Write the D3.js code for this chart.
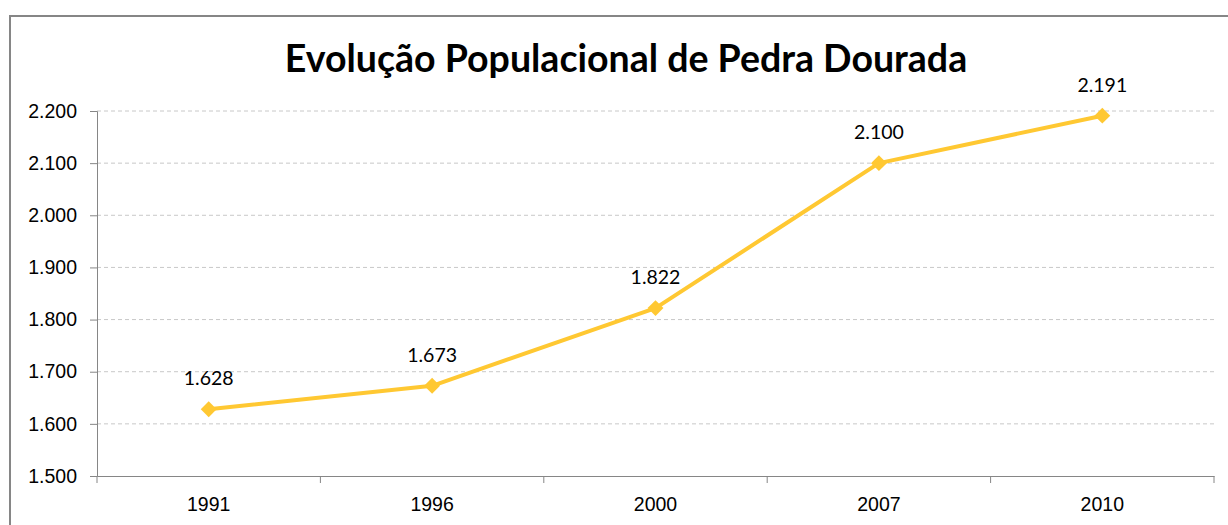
<!DOCTYPE html>
<html>
<head>
<meta charset="utf-8">
<script src="https://cdn.jsdelivr.net/npm/d3@7"></script>
<style>
  body { margin: 0; background: #fff; }
  svg { display: block; font-family: Lato, "Open Sans", sans-serif; }
</style>
</head>
<body>
<div id="chart"></div>
<script>
// Chart data
const years = ["1991", "1996", "2000", "2007", "2010"];
const population = [1628, 1673, 1822, 2100, 2191];
const yTicks = [1500, 1600, 1700, 1800, 1900, 2000, 2100, 2200];
const title = "Evolução Populacional de Pedra Dourada";

const W = 1228, H = 525;
const margin = { top: 111, right: 14, bottom: 49, left: 97 };
const width = W - margin.left - margin.right,
    height = H - margin.top - margin.bottom;

const ptBR = d3.formatLocale({ decimal: ",", thousands: ".", grouping: [3], currency: ["R$", ""] });
const fmt = ptBR.format(",d");

const svg = d3.select("#chart").append("svg")
    .attr("width", W)
    .attr("height", H);

// Chart frame
svg.append("rect")
    .attr("x", 10).attr("y", 16)
    .attr("width", W + 10).attr("height", H + 10)
    .attr("fill", "#fff")
    .attr("stroke", "#868686")
    .attr("stroke-width", 2);

// Title
svg.append("text")
    .attr("x", 626).attr("y", 72)
    .attr("text-anchor", "middle")
    .style("font-size", "37.5px")
    .style("font-weight", "bold")
    .attr("fill", "#000")
    .text(title);

const g = svg.append("g")
    .attr("transform", `translate(${margin.left},${margin.top})`);

// Scales
const x = d3.scaleBand()
    .domain(years)
    .range([0, width]);

const y = d3.scaleLinear()
    .domain([1500, 2200])
    .range([height, 0]);

// Gridlines
g.append("g")
    .selectAll("line")
    .data(yTicks.filter(d => d > 1500))
    .enter()
    .append("line")
    .attr("x1", 0).attr("x2", width)
    .attr("y1", d => y(d)).attr("y2", d => y(d))
    .attr("stroke", "#c8c8c8")
    .attr("stroke-dasharray", "4,3")
    .attr("stroke-width", 1);

// Y axis
const yAxis = g.append("g")
    .call(d3.axisLeft(y).tickValues(yTicks).tickFormat(fmt).tickSize(7).tickPadding(13));
yAxis.select(".domain").attr("stroke", "#868686");
yAxis.selectAll(".tick line").attr("stroke", "#868686");
yAxis.selectAll("text").style("font-size", "19.5px").attr("fill", "#000");

// X axis
const xAxis = g.append("g")
    .attr("transform", `translate(0,${height})`)
    .call(d3.axisBottom(x).tickSize(0).tickPadding(21));
xAxis.select(".domain").attr("stroke", "#868686");
xAxis.selectAll("text").style("font-size", "19.5px").attr("fill", "#000");

// Category tick marks at band boundaries
g.append("g")
    .selectAll("line")
    .data(years.map(d => x(d)).concat([width]))
    .enter()
    .append("line")
    .attr("x1", d => d).attr("x2", d => d)
    .attr("y1", height).attr("y2", height + 7)
    .attr("stroke", "#868686");

const cx = i => x(years[i]) + x.bandwidth() / 2;

// Line
const line = d3.line()
    .x((d, i) => cx(i))
    .y(d => y(d));

g.append("path")
    .datum(population)
    .attr("fill", "none")
    .attr("stroke", "#ffc832")
    .attr("stroke-width", 4)
    .attr("stroke-linejoin", "round")
    .attr("d", line);

// Markers
g.selectAll(".marker")
    .data(population)
    .enter()
    .append("path")
    .attr("class", "marker")
    .attr("transform", (d, i) => `translate(${cx(i)},${y(d)})`)
    .attr("d", d3.symbol().type(d3.symbolDiamond2).size(160))
    .attr("fill", "#ffc832");

// Data labels
g.selectAll(".label")
    .data(population)
    .enter()
    .append("text")
    .attr("class", "label")
    .attr("x", (d, i) => cx(i))
    .attr("y", d => y(d) - 24)
    .attr("text-anchor", "middle")
    .style("font-size", "19.5px")
    .attr("fill", "#000")
    .text(d => fmt(d));
</script>
</body>
</html>
